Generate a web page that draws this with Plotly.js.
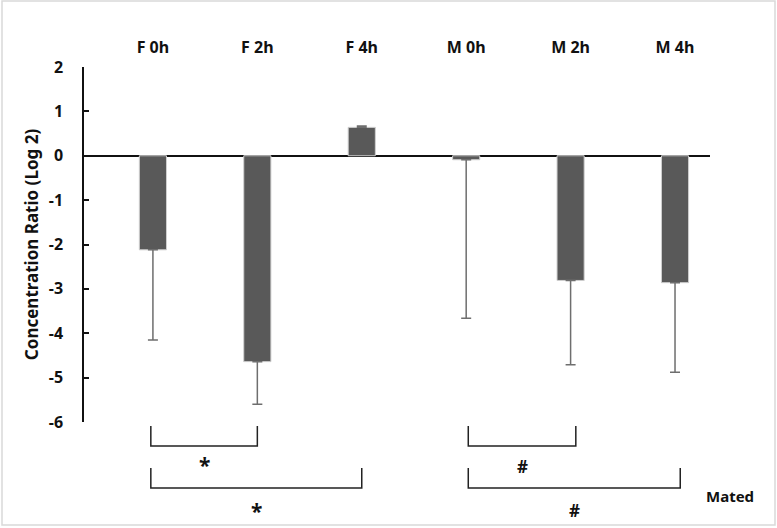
<!DOCTYPE html>
<html>
<head>
<meta charset="utf-8">
<script src="https://cdn.plot.ly/plotly-3.0.1.min.js"></script>
<style>
  body { margin: 0; background: #fff; }
  #chart { width: 777px; height: 528px; }
</style>
</head>
<body>
<div id="chart"></div>
<script>
// groups along the x axis
const groups = ["F 0h", "F 2h", "F 4h", "M 0h", "M 2h", "M 4h"];
// mean log2 concentration ratio
const ratios = [-2.12, -4.64, 0.64, -0.09, -2.81, -2.86];
// error bars (only drawn away from zero)
const errUp = [0, 0, 0.03, 0, 0, 0];
const errDown = [2.03, 0.96, 0, 3.57, 1.9, 2.02];

const yTicks = [2, 1, 0, -1, -2, -3, -4, -5, -6];
const yTickText = ["2", "1", "0", "-1", "-2", "-3", "-4", "-5", "-6"];

// significance brackets: [from group, to group, row, symbol]
const brackets = [
  [0, 1, 0, "*"],
  [0, 2, 1, "*"],
  [3, 4, 0, "#"],
  [3, 5, 1, "#"]
];

const idx = groups.map((g, i) => i);
const font = "'Noto Sans', 'Liberation Sans', sans-serif";

// pixel helpers for the space under the plot (plot area is 84..710 x 67..422)
const py = p => (422 - p) / 355;
const px = p => (p - 84) / 626;

const bracketTop = [426, 468];
const bracketBottom = [446, 488];
const symbolY = { "*": [465, 511], "#": [466, 510] };

const shapes = [];
const annotations = [];

brackets.forEach(([a, b, row, sym]) => {
  const x0 = a - 0.02 + (a >= 3 ? 0.04 : 0);
  const x1 = b + (a >= 3 ? 0.05 : 0);
  shapes.push({
    type: "path",
    xref: "x", yref: "paper",
    path: `M ${x0} ${py(bracketTop[row])} L ${x0} ${py(bracketBottom[row])} L ${x1} ${py(bracketBottom[row])} L ${x1} ${py(bracketTop[row])}`,
    line: { color: "#222", width: 1.5 }
  });
  const star = sym === "*";
  annotations.push({
    text: `<b>${sym}</b>`,
    xref: "x", yref: "paper",
    x: (x0 + x1) / 2, y: py(symbolY[sym][row]),
    xanchor: "center", yanchor: "middle",
    showarrow: false,
    font: { family: font, size: star ? 21 : 17, color: "#111" }
  });
});

annotations.push({
  text: "<b>Mated</b>",
  xref: "paper", yref: "paper",
  x: px(730), y: py(496),
  xanchor: "center", yanchor: "middle",
  showarrow: false,
  font: { family: font, size: 15, color: "#111" }
});

// light frame round the whole picture
shapes.push({
  type: "rect",
  xref: "paper", yref: "paper",
  x0: px(2), x1: px(775), y0: py(525), y1: py(1),
  line: { color: "#d9d9d9", width: 1.5 }
});

const trace = {
  type: "bar",
  x: idx,
  y: ratios,
  width: 0.26,
  marker: { color: "#595959", line: { color: "#d0d0d0", width: 1 } },
  error_y: {
    type: "data",
    symmetric: false,
    array: errUp,
    arrayminus: errDown,
    color: "#6e6e6e",
    thickness: 1.5,
    width: 5
  },
  hoverinfo: "x+y"
};

const layout = {
  width: 777,
  height: 528,
  margin: { l: 84, r: 67, t: 67, b: 106 },
  paper_bgcolor: "#fff",
  plot_bgcolor: "#fff",
  showlegend: false,
  font: { family: font, color: "#111" },
  xaxis: {
    side: "top",
    range: [-0.66, 5.335],
    tickvals: idx,
    ticktext: groups.map(g => `<b>${g}</b>`),
    tickfont: { family: font, size: 16, color: "#111" },
    ticks: "",
    ticklabelstandoff: 10,
    showline: false,
    showgrid: false,
    zeroline: false
  },
  yaxis: {
    range: [-6, 2],
    tickvals: yTicks,
    ticktext: yTickText.map(t => `<b>${t}</b>`),
    tickfont: { family: font, size: 16, color: "#111" },
    ticks: "inside",
    ticklen: 5,
    tickwidth: 1.5,
    tickcolor: "#111",
    ticklabelstandoff: 16,
    showline: true,
    linecolor: "#111",
    linewidth: 1.5,
    showgrid: false,
    zeroline: true,
    zerolinecolor: "#111",
    zerolinewidth: 1.5,
    title: {
      text: "<b>Concentration Ratio (Log 2)</b>",
      font: { family: font, size: 17, color: "#111" },
      standoff: 6
    }
  },
  shapes: shapes,
  annotations: annotations
};

Plotly.newPlot("chart", [trace], layout, { displayModeBar: false, responsive: false });
</script>
</body>
</html>
